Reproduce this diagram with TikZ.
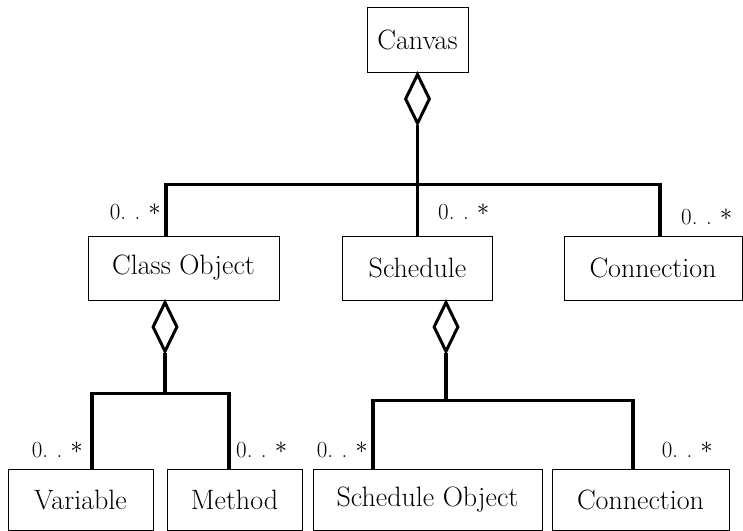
\documentclass[tikz,border=0pt]{standalone}
\usetikzlibrary{shapes.geometric}
\usetikzlibrary{calc}

\begin{document}
\begin{tikzpicture}[x=1pt, y=-1pt]
    % ================= styles =================
    \tikzset{
        % class box
        classbox/.style={draw=black, line width=0.8pt, fill=white, align=center, minimum height=64pt, inner sep=0pt, font=\fontsize{28}{33}\selectfont},
        % aggregation diamond
        agg/.style={diamond, draw=black, line width=3pt, fill=white, minimum width=25pt, minimum height=50pt, inner sep=0pt},
        % connector
        link/.style={line width=3.2pt, black},
        % multiplicity
        mult/.style={font=\fontsize{23}{27}\selectfont, inner sep=1pt}
    }

    \useasboundingbox (0,0) rectangle (743,530);

    % ================= top level: Canvas =================
    \node[classbox, minimum width=101pt, minimum height=65pt] (canvas) at (417.5, 39.5) {Canvas};
    \node[agg, anchor=north] (dcanvas) at (canvas.south) {};

    \node[classbox, minimum width=191pt] (classobj) at (183.5, 268) {Class Object};
    \node[classbox, minimum width=150pt] (schedule) at (417.5, 268) {Schedule};
    \node[classbox, minimum width=178pt] (conn1) at (653, 268) {Connection};

    \draw[link] (dcanvas.south) -- ++(0,59) coordinate (hubtop);
    \draw[link] ([xshift=-17.5pt]classobj.north) |- (hubtop) -| ([xshift=7pt]conn1.north);
    \draw[link] (hubtop) -- (schedule.north);

    \node[mult, anchor=east] (mclass) at (162, 212) {0.\kern8.5pt.\kern8pt\raisebox{3.5pt}{$\ast$}};
    \node[mult, anchor=west] (msched) at (437, 212) {0.\kern8.5pt.\kern8pt\raisebox{3.5pt}{$\ast$}};
    \node[mult, anchor=west] (mconn1) at (680, 217) {0.\kern8.5pt.\kern8pt\raisebox{3.5pt}{$\ast$}};

    % ================= Class Object: Variable, Method =================
    \node[agg, anchor=north] (dclass) at ([xshift=-18.5pt]classobj.south) {};
    \node[classbox, minimum width=145pt, minimum height=61pt] (variable) at (80.5, 499.5) {Variable};
    \node[classbox, minimum width=135pt, minimum height=61pt] (method) at (234.5, 499.5) {Method};

    \draw[link] (dclass.south) -- ++(0,40) coordinate (hubclass);
    \draw[link] ([xshift=11.5pt]variable.north) |- (hubclass) -| ([xshift=-5.5pt]method.north);

    \node[mult, anchor=east] (mvar) at (84, 450) {0.\kern8.5pt.\kern8pt\raisebox{3.5pt}{$\ast$}};
    \node[mult, anchor=west] (mmeth) at (235, 450) {0.\kern8.5pt.\kern8pt\raisebox{3.5pt}{$\ast$}};

    % ================= Schedule: Schedule Object, Connection =================
    \node[agg, anchor=north] (dsched) at ([xshift=28.5pt]schedule.south) {};
    \node[classbox, minimum width=229pt, minimum height=61pt] (schedobj) at (427.5, 499.5) {Schedule Object};
    \node[classbox, minimum width=177pt, minimum height=61pt] (conn2) at (640.5, 499.5) {Connection};

    \draw[link] (dsched.south) -- ++(0,47) coordinate (hubsched);
    \draw[link] ([xshift=-54.5pt]schedobj.north) |- (hubsched) -| ([xshift=-7.5pt]conn2.north);

    \node[mult, anchor=east] (mschobj) at (369, 450) {0.\kern8.5pt.\kern8pt\raisebox{3.5pt}{$\ast$}};
    \node[mult, anchor=east] (mconn2) at (714, 450) {0.\kern8.5pt.\kern8pt\raisebox{3.5pt}{$\ast$}};

\end{tikzpicture}
\end{document}
